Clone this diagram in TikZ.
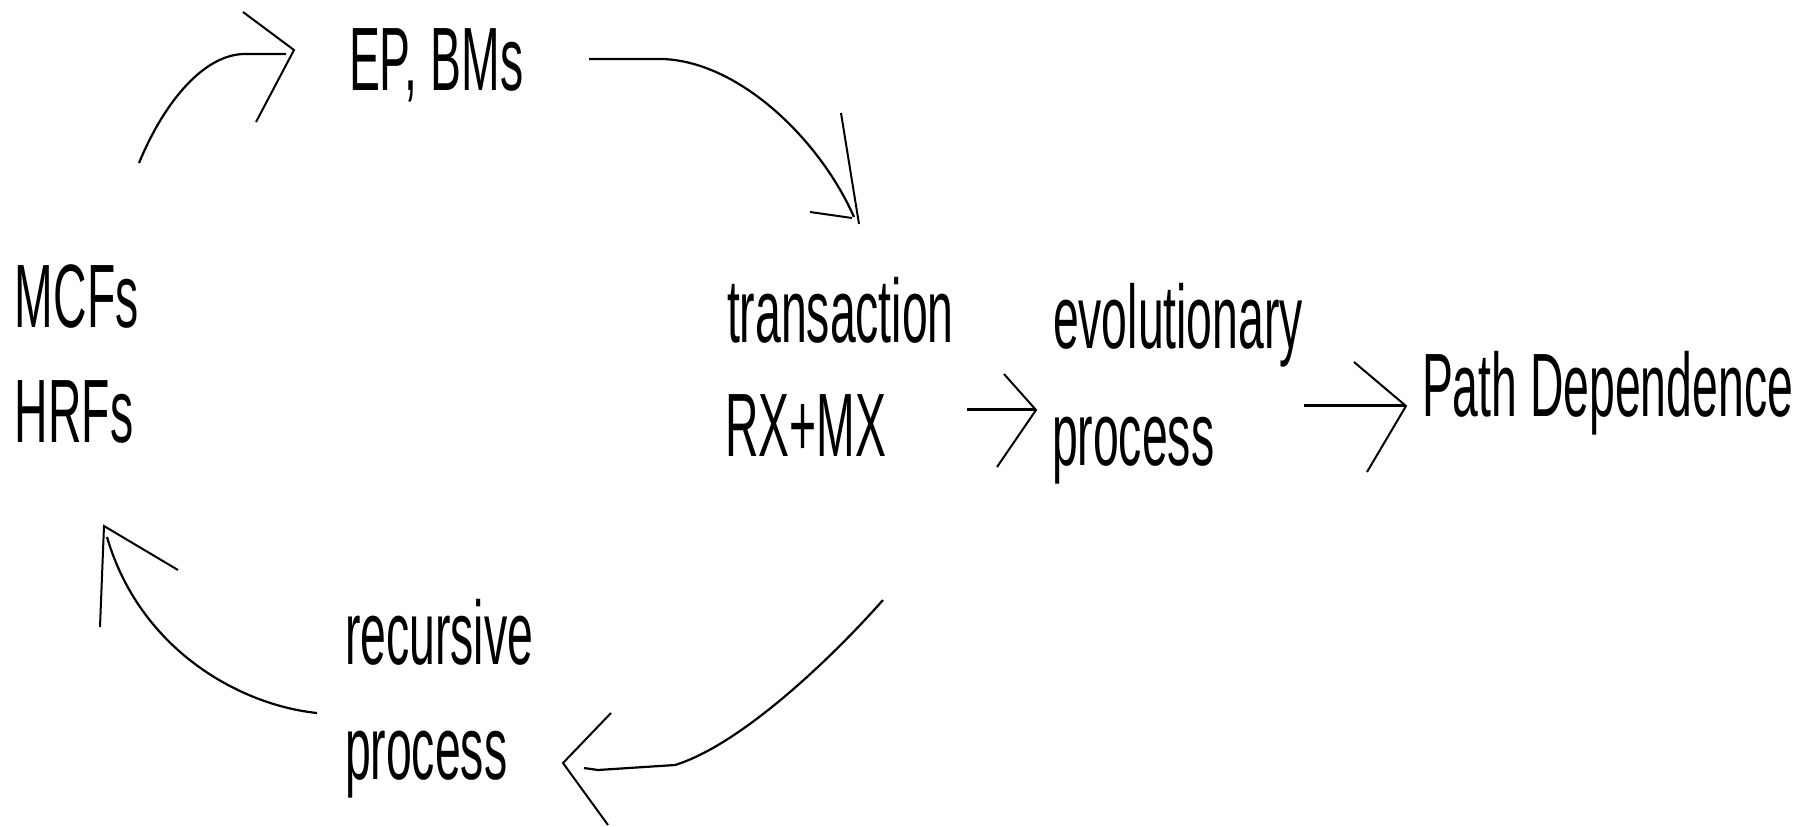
\documentclass[tikz,border=0pt]{standalone}
\usepackage{fontspec}
\setmainfont{Liberation Sans}[FakeStretch=0.515]
\begin{document}
\begin{tikzpicture}[x=0.5pt,y=-0.5pt,
  lbl/.style={anchor=base west,inner sep=0pt,outer sep=0pt,font=\fontsize{45}{54}\selectfont},
  shaft/.style={line width=1.1pt,line cap=butt,line join=miter},
  head/.style={line width=1pt,line join=miter}]
\useasboundingbox (0,0) rectangle (1806,826);
% texts
\node[lbl] (ep) at (349,90) {EP, BMs};
\node[lbl] (mcfs) at (15,327) {MCFs};
\node[lbl] (hrfs) at (15,442) {HRFs};
\node[lbl] (trans) at (727,342) {transaction};
\node[lbl] (rxmx) at (725,456) {RX+MX};
\node[lbl] (evo) at (1053,348) {evolutionary};
\node[lbl] (evoproc) at (1052,465) {process};
\node[lbl] (path) at (1422,416) {Path Dependence};
\node[lbl] (rec) at (345,664) {recursive};
\node[lbl] (recproc) at (345,779) {process};
% arrow 1: MCFs -> EP, BMs
\coordinate (a1s) at (139,163);
\coordinate (a1m) at (245,54);
\coordinate (a1e) at (286,54);
\coordinate (a1u) at (243,12);
\coordinate (a1t) at (294,50);
\coordinate (a1l) at (256,122);
\draw[shaft] (a1s) .. controls (165,100) and (205,54) .. (a1m) -- (a1e);
\draw[head] (a1u) -- (a1t) -- (a1l);
% arrow 2: EP, BMs -> transaction
\coordinate (a2s) at (589,59);
\coordinate (a2m) at (663,59);
\coordinate (a2e) at (854,217);
\coordinate (a2u) at (841,113);
\coordinate (a2t) at (859,224);
\coordinate (a2l) at (810,212);
\coordinate (a2k) at (852,218);
\draw[shaft] (a2s) -- (a2m) .. controls (740,62) and (820,140) .. (a2e);
\draw[head] (a2u) -- (a2t);
\draw[head] (a2l) -- (a2k);
% arrow 3: transaction -> recursive process
\coordinate (a3s) at (883,600);
\coordinate (a3m) at (675,765);
\coordinate (a3e) at (584,768);
\coordinate (a3u) at (611,713);
\coordinate (a3t) at (563,763);
\coordinate (a3l) at (608,825);
\draw[shaft] (a3s) .. controls (830,660) and (740,745) .. (a3m) -- (598,770) -- (a3e);
\draw[head] (a3u) -- (a3t) -- (a3l);
% arrow 4: recursive process -> HRFs
\coordinate (a4s) at (317,713);
\coordinate (a4e) at (107,537);
\coordinate (a4r) at (178,570);
\coordinate (a4t) at (104,526);
\coordinate (a4d) at (100,627);
\draw[shaft] (a4s) .. controls (240,705) and (140,650) .. (a4e);
\draw[head] (a4r) -- (a4t) -- (a4d);
% arrow 5: RX+MX -> evolutionary process
\coordinate (a5s) at (967,409);
\coordinate (a5e) at (1036,409);
\coordinate (a5u) at (1004,374);
\coordinate (a5t) at (1036,410);
\coordinate (a5l) at (997,467);
\draw[shaft,line width=1.5pt] (a5s) -- (a5e);
\draw[head] (a5u) -- (a5t) -- (a5l);
% arrow 6: evolutionary process -> Path Dependence
\coordinate (a6s) at (1304,405);
\coordinate (a6e) at (1405,405);
\coordinate (a6u) at (1354,362);
\coordinate (a6t) at (1406,406);
\coordinate (a6l) at (1367,472);
\draw[shaft,line width=1.5pt] (a6s) -- (a6e);
\draw[head] (a6u) -- (a6t) -- (a6l);
\end{tikzpicture}
\end{document}
